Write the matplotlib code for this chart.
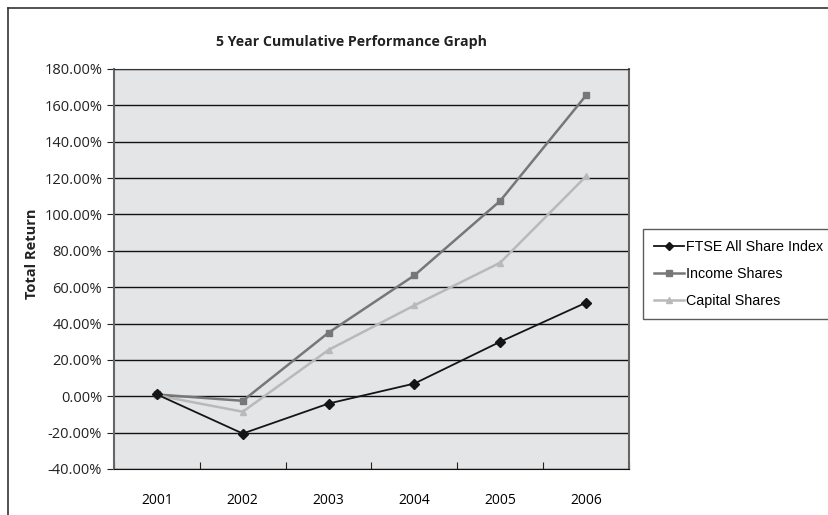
import matplotlib.pyplot as plt
from matplotlib.ticker import FuncFormatter
from matplotlib.lines import Line2D

years = ['2001', '2002', '2003', '2004', '2005', '2006']
ftse = [1.0, -20.5, -4.0, 7.0, 30.0, 51.5]
income = [1.0, -2.5, 35.0, 66.5, 107.5, 165.5]
capital = [0.5, -8.5, 25.5, 50.0, 73.5, 121.0]

fig = plt.figure(figsize=(8.29, 5.15), dpi=100)
ax = fig.add_axes([114 / 829, 1 - 469 / 515, 515 / 829, 400 / 515])
ax.set_facecolor('#e4e5e6')

x = list(range(len(years)))
ax.plot(x, ftse, color='#151515', lw=1.3, marker='D', ms=5, label='FTSE All Share Index', zorder=4)
ax.plot(x, income, color='#777777', lw=1.8, marker='s', ms=5, label='Income Shares', zorder=3)
ax.plot(x, capital, color='#b9b9b9', lw=1.8, marker='^', ms=5, label='Capital Shares', zorder=3)

ax.set_xlim(-0.5, 5.5)
ax.set_ylim(-40, 180)
ax.set_yticks(range(-40, 181, 20))
ax.yaxis.set_major_formatter(FuncFormatter(lambda v, p: '%.2f%%' % v))
ax.set_xticks([i + 0.5 for i in range(-1, 6)])
ax.set_xticklabels([])
ax.set_xticks(x, minor=True)
ax.set_xticklabels(years, minor=True)
ax.tick_params(axis='x', which='minor', length=0, pad=17)
ax.tick_params(axis='x', which='major', direction='in', length=5, color='#333333')
ax.tick_params(axis='y', direction='out', length=5, color='#333333')
ax.tick_params(labelsize=10.5, colors='#222222')
for lab in ax.get_xticklabels(minor=True) + ax.get_yticklabels():
    lab.set_fontfamily('Open Sans')

ax.yaxis.grid(True, color='#111111', lw=1.0)
ax.set_axisbelow(True)
for side in ['left', 'right']:
    ax.spines[side].set_color('#666666')
    ax.spines[side].set_linewidth(1.5)
ax.spines['top'].set_color('#333333')
ax.spines['bottom'].set_color('#111111')

ax.set_ylabel('Total Return', fontsize=10.5, fontweight='bold', family='Open Sans',
              color='#222222')
ax.yaxis.set_label_coords(-(114 - 39) / 515, (469 - 254) / 400)
fig.text(352 / 829, 1 - 42 / 515, '5 Year Cumulative Performance Graph', ha='center', va='center',
         fontsize=10.2, fontweight='bold', family='Open Sans', color='#222222')

leg = fig.legend(loc='upper left', bbox_to_anchor=(643 / 829, 1 - 229 / 515),
                 prop={'family': 'Liberation Sans', 'size': 10.3}, frameon=True, fancybox=False,
                 edgecolor='#333333', handlelength=2.1, handletextpad=0.15, borderpad=0.75,
                 labelspacing=0.92, markerscale=0.8, borderaxespad=0)
leg.get_frame().set_linewidth(1.0)

# frame along the top and left edges
fig.add_artist(Line2D([8 / 829, 1], [1 - 8 / 515, 1 - 8 / 515], color='#333333', lw=1.2))
fig.add_artist(Line2D([8 / 829, 8 / 829], [0, 1 - 8 / 515], color='#333333', lw=1.2))

fig.savefig('out.png', dpi=100)
